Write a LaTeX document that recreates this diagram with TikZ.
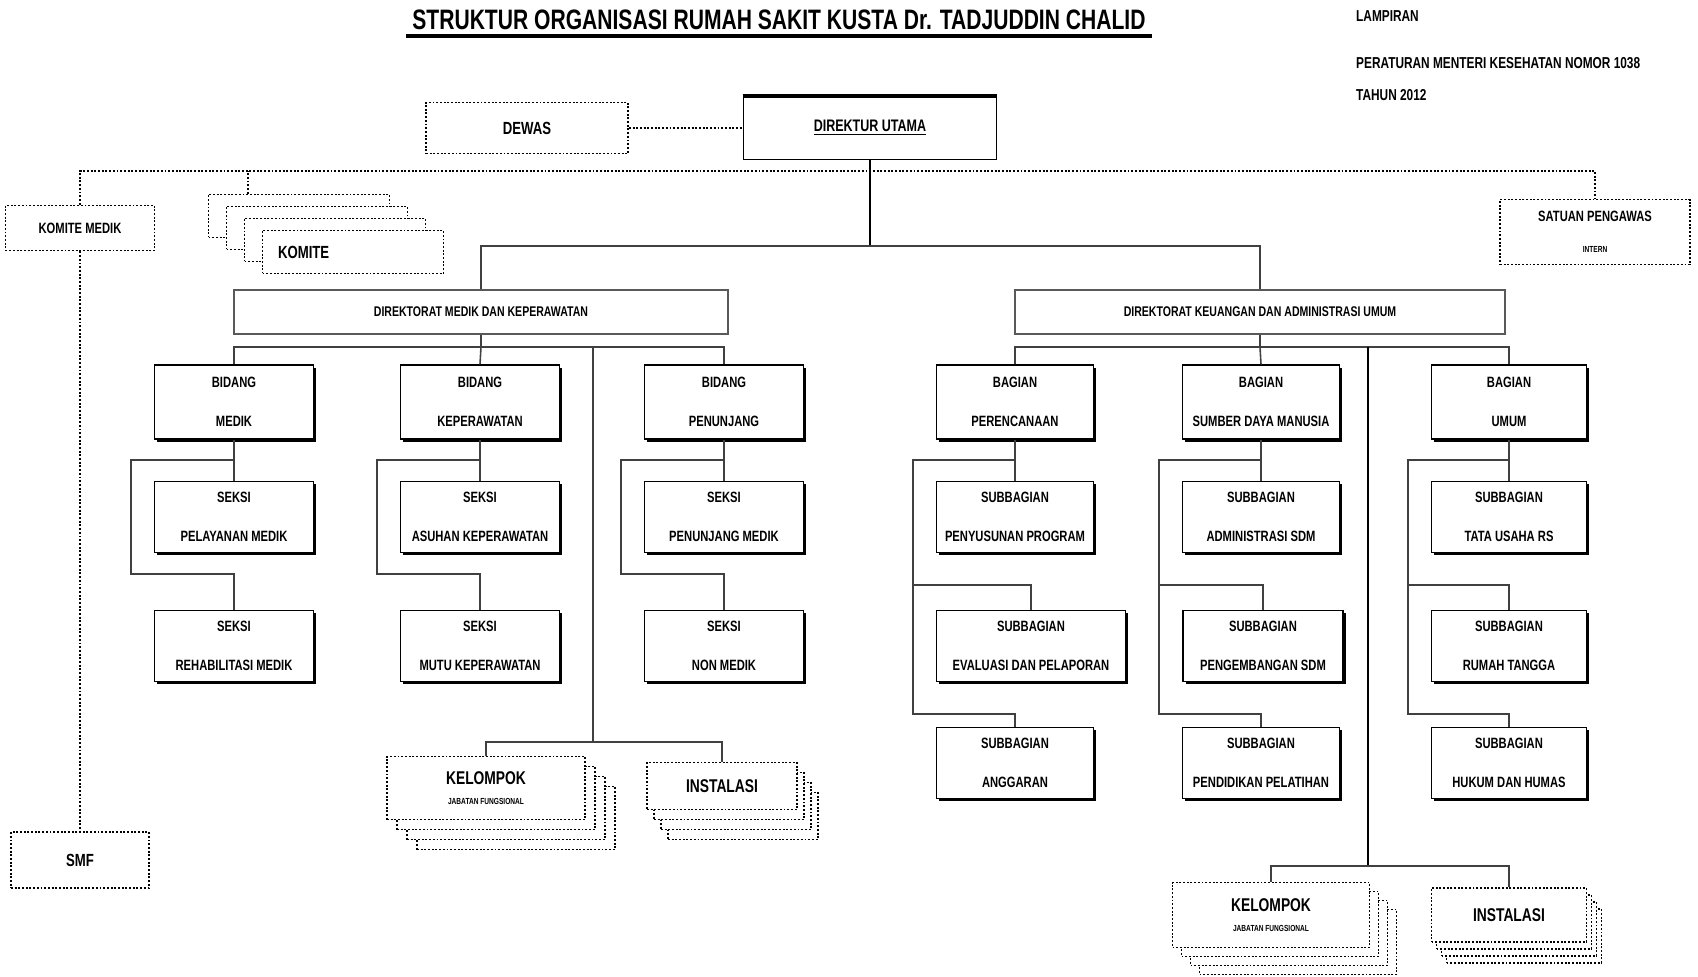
\documentclass[tikz,border=0pt]{standalone}
\usepackage{fontspec}
\setmainfont{Liberation Sans}[FakeStretch=0.75]
\usetikzlibrary{positioning,calc,shadows}

\begin{document}
\begin{tikzpicture}[x=0.02cm,y=-0.02cm,
    every node/.style={font=\bfseries\fontsize{8.5}{9.5}\selectfont},
    unit/.style={draw,line width=0.8pt,fill=white,align=center,inner sep=2pt,
      drop shadow={fill=black,opacity=1,shadow xshift=1.6pt,shadow yshift=-1.6pt}},
    row/.style={unit,minimum width=3.18cm,minimum height=1.42cm},
    dotbox/.style={draw,densely dotted,line width=1.1pt,fill=white,align=center},
    dirbox/.style={draw=black!65,line width=0.7pt,minimum height=0.88cm,font=\bfseries\fontsize{8}{9}\selectfont},
    link/.style={draw=black!75,line width=0.9pt},
    dotlink/.style={densely dotted,line width=1.1pt},
    mainlink/.style={line width=1.6pt}]

  \useasboundingbox (0,0) rectangle (1698,977);

  % title and note
  \node (title) at (779,20) {\fontsize{16}{18}\selectfont STRUKTUR ORGANISASI RUMAH SAKIT KUSTA Dr. TADJUDDIN CHALID};
  \draw[line width=2pt] (title.south west) -- (title.south east);
  \node[anchor=west,font=\bfseries\fontsize{9}{10}\selectfont] (lamp) at (1350,16) {LAMPIRAN};
  \node[anchor=west,font=\bfseries\fontsize{9}{10}\selectfont] (perm) at (1350,63) {PERATURAN MENTERI KESEHATAN NOMOR 1038};
  \node[anchor=west,font=\bfseries\fontsize{9}{10}\selectfont] (thn) at (1350,95) {TAHUN 2012};

  % top level
  \node[dotbox,minimum width=4.04cm,minimum height=1.02cm,font=\bfseries\fontsize{10}{12}\selectfont] (dewas) at (527,128) {DEWAS};
  \node[draw,line width=1pt,fill=white,minimum width=5.06cm,minimum height=1.26cm,font=\bfseries\fontsize{9.5}{11}\selectfont] (dirut) at (870,128) {\underline{DIREKTUR UTAMA}};
  \draw[line width=2.2pt] (dirut.north west) -- (dirut.north east);
  \node[dotbox,minimum width=2.98cm,minimum height=0.9cm] (kmed) at (80,228) {KOMITE MEDIK};
  \foreach \i in {3,2,1}
    \node[dotbox,minimum width=3.62cm,minimum height=0.86cm] (kom\i) at ($(353,252)+(-18*\i,-12*\i)$) {};
  \node[dotbox,minimum height=0.86cm,text width=3.0cm,inner xsep=0.31cm,align=left,font=\bfseries\fontsize{10}{12}\selectfont] (kom) at (353,252) {KOMITE};
  \node[dotbox,minimum width=3.8cm,minimum height=1.3cm] (spi) at (1595,232) {SATUAN PENGAWAS\\[8pt]{\fontsize{5}{6}\selectfont INTERN}};
  \node[dotbox,minimum width=2.76cm,minimum height=1.12cm,font=\bfseries\fontsize{10}{12}\selectfont] (smf) at (80,860) {SMF};

  % directorates
  \node[dirbox,minimum width=9.88cm] (dirm) at (481,312) {DIREKTORAT MEDIK DAN KEPERAWATAN};
  \node[dirbox,minimum width=9.8cm] (dirk) at (1260,312) {DIREKTORAT KEUANGAN DAN ADMINISTRASI UMUM};

  % bidang and bagian
  \node[row,minimum height=1.48cm] (b1) at (234,402) {BIDANG\\[13pt]MEDIK};
  \node[row,minimum height=1.48cm] (b2) at (480,402) {BIDANG\\[13pt]KEPERAWATAN};
  \node[row,minimum height=1.48cm] (b3) at (724,402) {BIDANG\\[13pt]PENUNJANG};
  \node[row,minimum height=1.48cm,minimum width=3.14cm] (b4) at (1015,402) {BAGIAN\\[13pt]PERENCANAAN};
  \node[row,minimum height=1.48cm,minimum width=3.14cm] (b5) at (1261,402) {BAGIAN\\[13pt]SUMBER DAYA MANUSIA};
  \node[row,minimum height=1.48cm,minimum width=3.1cm] (b6) at (1509,402) {BAGIAN\\[13pt]UMUM};

  % seksi
  \node[row] (s11) at (234,517) {SEKSI\\[13pt]PELAYANAN MEDIK};
  \node[row] (s12) at (234,646) {SEKSI\\[13pt]REHABILITASI MEDIK};
  \node[row] (s21) at (480,517) {SEKSI\\[13pt]ASUHAN KEPERAWATAN};
  \node[row] (s22) at (480,646) {SEKSI\\[13pt]MUTU KEPERAWATAN};
  \node[row] (s31) at (724,517) {SEKSI\\[13pt]PENUNJANG MEDIK};
  \node[row] (s32) at (724,646) {SEKSI\\[13pt]NON MEDIK};

  % subbagian
  \node[row,minimum width=3.14cm] (s41) at (1015,517) {SUBBAGIAN\\[13pt]PENYUSUNAN PROGRAM};
  \node[row,minimum width=3.78cm] (s42) at (1031,646) {SUBBAGIAN\\[13pt]EVALUASI DAN PELAPORAN};
  \node[row,minimum width=3.14cm] (s43) at (1015,763) {SUBBAGIAN\\[13pt]ANGGARAN};
  \node[row,minimum width=3.14cm] (s51) at (1261,517) {SUBBAGIAN\\[13pt]ADMINISTRASI SDM};
  \node[row,minimum width=3.2cm] (s52) at (1263,646) {SUBBAGIAN\\[13pt]PENGEMBANGAN SDM};
  \node[row,minimum width=3.14cm] (s53) at (1261,763) {SUBBAGIAN\\[13pt]PENDIDIKAN PELATIHAN};
  \node[row,minimum width=3.1cm] (s61) at (1509,517) {SUBBAGIAN\\[13pt]TATA USAHA RS};
  \node[row,minimum width=3.1cm] (s62) at (1509,646) {SUBBAGIAN\\[13pt]RUMAH TANGGA};
  \node[row,minimum width=3.1cm] (s63) at (1509,763) {SUBBAGIAN\\[13pt]HUKUM DAN HUMAS};

  % kelompok and instalasi
  \foreach \i in {3,2,1}
    \node[dotbox,minimum width=3.96cm,minimum height=1.26cm] (kela\i) at ($(486,788)+(10*\i,10*\i)$) {};
  \node[dotbox,minimum width=3.96cm,minimum height=1.26cm,font=\bfseries\fontsize{10.5}{12}\selectfont] (kela) at (486,788) {KELOMPOK\\[-1pt]{\fontsize{5}{6}\selectfont JABATAN FUNGSIONAL}};
  \foreach \i in {3,2,1}
    \node[dotbox,minimum width=3.0cm,minimum height=0.94cm] (insa\i) at ($(722,786)+(7*\i,10*\i)$) {};
  \node[dotbox,minimum width=3.0cm,minimum height=0.94cm,font=\bfseries\fontsize{10.5}{12}\selectfont] (insa) at (722,786) {INSTALASI};
  \foreach \i in {3,2,1}
    \node[dotbox,minimum width=3.94cm,minimum height=1.3cm] (kelb\i) at ($(1271,915)+(9*\i,9*\i)$) {};
  \node[dotbox,minimum width=3.94cm,minimum height=1.3cm,font=\bfseries\fontsize{10.5}{12}\selectfont] (kelb) at (1271,915) {KELOMPOK\\[-1pt]{\fontsize{5}{6}\selectfont JABATAN FUNGSIONAL}};
  \foreach \i in {3,2,1}
    \node[dotbox,minimum width=3.1cm,minimum height=1.08cm] (insb\i) at ($(1509,915)+(5*\i,7*\i)$) {};
  \node[dotbox,minimum width=3.1cm,minimum height=1.08cm,font=\bfseries\fontsize{10.5}{12}\selectfont] (insb) at (1509,915) {INSTALASI};

  % connectors top
  \coordinate (topbus) at (870,171);
  \coordinate (dirbus) at (870,246);
  \coordinate (komtop) at ($(kom3.north west)+(40,0)$);
  \draw[dotlink] (dewas) -- (dirut);
  \draw[dotlink] (kmed.north) |- (topbus) -| (spi.north);
  \draw[dotlink] (komtop) -- (komtop |- topbus);
  \draw[dotlink] (kmed.south) -- (smf.north);
  \draw[mainlink] (dirut.south) -- (dirbus);
  \draw[link] (dirm.north) |- (dirbus) -| (dirk.north);

  % connectors medik
  \coordinate (mbus) at (481,347);
  \coordinate (msplit) at (593,347);
  \coordinate (mfun) at (593,742);
  \draw[link] (dirm.south) -- (mbus);
  \draw[link] (b1.north) |- (mbus) -| (b3.north);
  \draw[link] (mbus) -- (b2.north);
  \draw[link] (msplit) -- (mfun);
  \draw[link] (kela.north) |- (mfun) -| (insa.north);
  \foreach \b in {1,2,3} {
    \draw[link] (b\b.south) -- (s\b1.north);
    \draw[link] ($(b\b.south)!.5!(s\b1.north)$) -| ($(s\b1.west)+(-23,0)$) |- ($(s\b2.north)+(0,-36)$) -- (s\b2.north);
  }

  % connectors keuangan
  \coordinate (kbus) at (1260,347);
  \coordinate (ksplit) at (1368,347);
  \coordinate (kfun) at (1368,866);
  \draw[link] (dirk.south) -- (kbus);
  \draw[link] (b4.north) |- (kbus) -| (b6.north);
  \draw[link] (kbus) -- (b5.north);
  \draw[mainlink] (ksplit) -- (kfun);
  \draw[link] (kelb.north) |- (kfun) -| (insb.north);
  \foreach \b in {4,5,6} {
    \draw[link] (b\b.south) -- (s\b1.north);
    \draw[link] ($(b\b.south)!.5!(s\b1.north)$) -| ($(s\b1.west)+(-23,0)$) |- ($(s\b2.north)+(0,-25)$) -- (s\b2.north);
    \draw[link] ($(s\b1.west)+(-23,0)$) |- ($(s\b3.north)+(0,-13)$) -- (s\b3.north);
  }
\end{tikzpicture}
\end{document}
